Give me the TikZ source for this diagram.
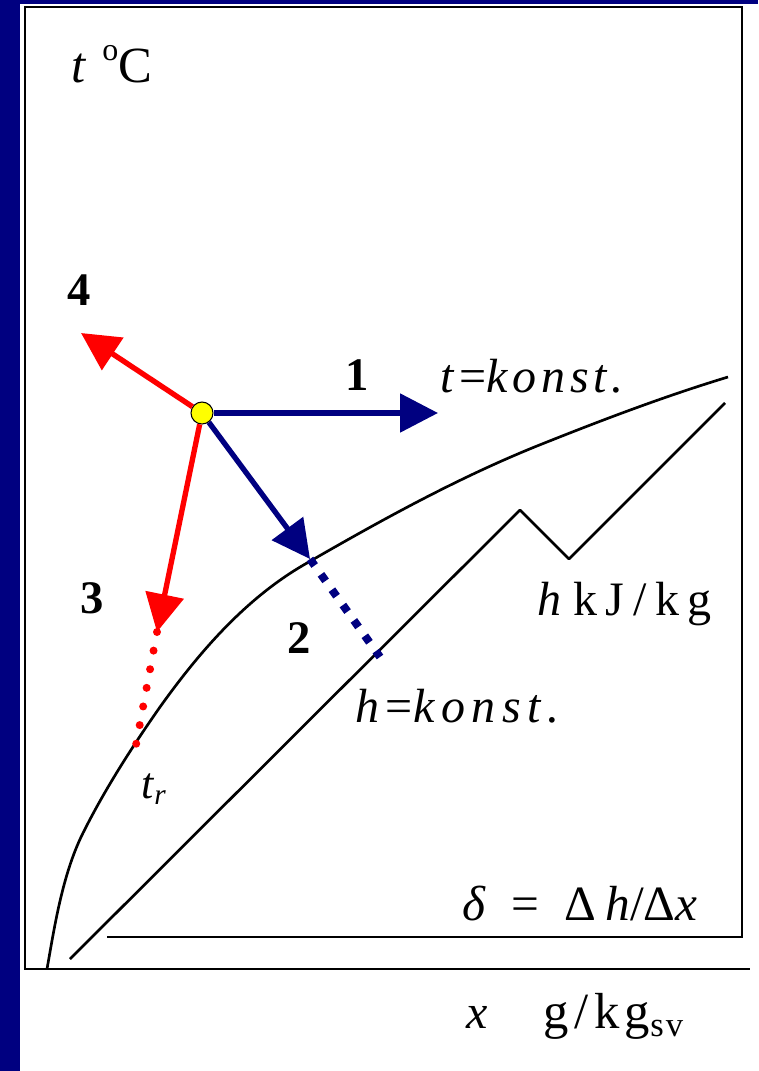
\documentclass[tikz,border=0pt]{standalone}
\usepackage{fontspec}
\setmainfont{Liberation Serif}
\usepackage{xcolor}
\usetikzlibrary{arrows.meta}

\definecolor{navyline}{RGB}{0,0,128}
\definecolor{redline}{RGB}{255,0,0}
\definecolor{statefill}{RGB}{255,255,0}

\tikzset{
  frameline/.style={line width=2pt, line join=miter},
  curveline/.style={line width=2pt, line join=round},
  bluearrow/.style={draw=navyline, line width=4pt, -{Triangle[length=28.5pt,width=28.5pt]}},
  redarrow/.style={draw=redline, line width=4pt, -{Triangle[length=28.5pt,width=28.5pt]}},
  reddots/.style={draw=redline, line width=6pt, line cap=round, dash pattern=on 0pt off 14.2pt},
  navydots/.style={draw=navyline, line width=6pt, dash pattern=on 6pt off 8.15pt},
  statept/.style={circle, draw, fill=statefill, minimum size=16.5pt, inner sep=0pt, line width=0.8pt},
  lbl/.style={anchor=base west, inner sep=0pt, font=\fontsize{36}{42}\selectfont},
  numlbl/.style={lbl, font=\fontsize{35}{40}\selectfont\bfseries},
}

\begin{document}
\begin{tikzpicture}[x=0.75pt,y=0.75pt,yscale=-1,xscale=1]
\useasboundingbox (0,0) rectangle (758,1071);

%Shape: Band
\fill[navyline] (0,0) rectangle (20,1071);
\fill[navyline] (0,0) rectangle (758,4);
%Shape: Frame
\draw[frameline] (107,937) -- (742,937) -- (742,7) -- (25,7) -- (25,969) -- (750,969);

%Curve: saturation line
\draw[curveline] (47,969) .. controls (54,930) and (62,875) .. (83,833)
  .. controls (105,789) and (132,747) .. (160,707)
  .. controls (200,651) and (247,597) .. (307,563)
  .. controls (385,518) and (463,475) .. (547,442)
  .. controls (606.5,418.3) and (667,395.5) .. (728,377);
%Straight Lines: h line
\draw[curveline] (70,959) -- (520,510) -- (569,559) -- (725,403);

%Shape: state point
\node[statept] (P) at (202,413) {};
\coordinate (e1) at (438,413);
\coordinate (e2) at (310,559);
\coordinate (e3) at (157,632);
\coordinate (e4) at (81,333);
\coordinate (h2) at (380,657);
\coordinate (tr) at (136,745);

%Arrows
\draw[bluearrow] (P) -- (e1);
\draw[bluearrow] (P) -- (e2);
\draw[redarrow] (P) -- (e3);
\draw[redarrow] (P) -- (e4);
%Dotted extensions
\draw[navydots] (e2) -- (h2);
\draw[reddots] (e3) -- (tr);

% Text Node
\node[lbl, font=\fontsize{38}{42}\selectfont] (tC) at (71,82) {\textit{t}\hspace{12pt}\raisebox{16pt}{\fontsize{24}{24}\selectfont o}C};
% Text Node
\node[numlbl] (n4) at (67,305) {4};
% Text Node
\node[numlbl] (n1) at (345,390) {1};
% Text Node
\node[numlbl] (n3) at (80,613) {3};
% Text Node
\node[numlbl] (n2) at (287,653) {2};
% Text Node
\node[lbl] (tkonst) at (440,392) {\addfontfeatures{LetterSpace=10}\textit{t}=\textit{konst.}};
% Text Node
\node[lbl] (hkonst) at (355,722) {\addfontfeatures{LetterSpace=14}\textit{h}=\textit{konst.}};
% Text Node
\node[lbl, font=\fontsize{33}{38}\selectfont] (tr lbl) at (141,798) {\textit{t}\raisebox{-5pt}{\fontsize{22}{22}\selectfont\textit{r}}};
% Text Node
\node[lbl] (hunit) at (537,615) {\textit{h} \addfontfeatures{LetterSpace=18}kJ/kg};
% Text Node
\node[lbl, font=\fontsize{37}{42}\selectfont] (delta) at (462,920) {\textit{δ}\hspace{19pt}=\hspace{19pt}Δ\hspace{7pt}\textit{h}/Δ\textit{x}};
% Text Node
\node[lbl] (xunit) at (466,1028) {\textit{x}\hspace{42pt}{\fontsize{38}{42}\selectfont\addfontfeatures{LetterSpace=11}g/kg}\raisebox{-6pt}{\fontsize{26}{26}\selectfont\addfontfeatures{LetterSpace=6}sv}};

\end{tikzpicture}
\end{document}
